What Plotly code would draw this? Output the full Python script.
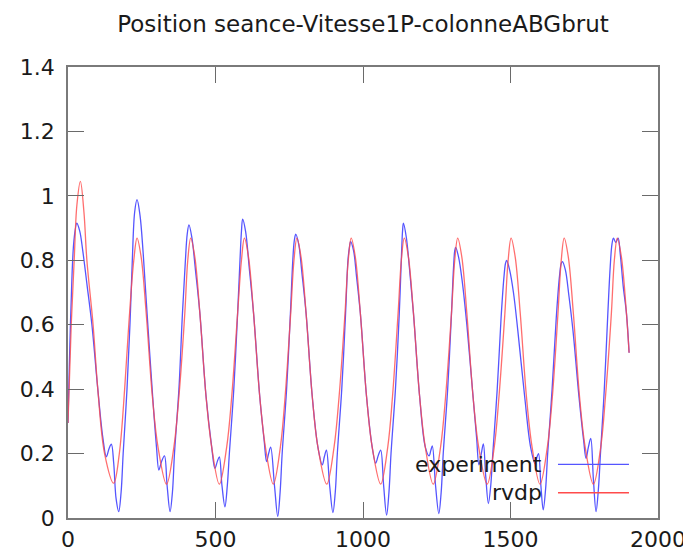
import plotly.graph_objects as go

title_text = "Position seance-Vitesse1P-colonneABGbrut"
x_ticks = [0, 500, 1000, 1500, 2000]
y_ticks = [0, 0.2, 0.4, 0.6, 0.8, 1, 1.2, 1.4]
series_names = ["experiment", "rvdp"]

# experiment (blue) — key points
exp_x = [0, 10, 20, 30, 40, 50, 65, 81, 101, 118, 130, 139, 147, 155, 163, 172, 180, 187, 200, 210, 218, 226, 234,
         244, 255, 268, 287, 300, 308, 317, 327, 336, 346, 354, 361, 376, 388, 398, 404, 410,
         420, 432, 447, 468, 487, 498, 506, 513, 522, 532, 540, 547, 562, 575, 583, 588, 592,
         602, 614, 629, 650, 665, 673, 680, 687, 700, 711, 719, 726, 741, 754, 762, 767, 772,
         782, 793, 807, 828, 847, 862, 869, 876, 887, 898, 906, 913, 928, 941, 949, 954, 958,
         968, 978, 991, 1012, 1031, 1043, 1052, 1060, 1070, 1080, 1088, 1095, 1110, 1123, 1131, 1134, 1137,
         1147, 1158, 1171, 1192, 1211, 1224, 1230, 1235, 1246, 1257, 1265, 1272, 1287, 1300, 1307, 1311, 1314,
         1324, 1337, 1352, 1373, 1385, 1393, 1401, 1408, 1416, 1425, 1433, 1440, 1455, 1468, 1478, 1483, 1487,
         1497, 1510, 1525, 1548, 1568, 1583, 1590, 1595, 1603, 1611, 1619, 1626, 1641, 1655, 1666, 1672, 1676,
         1686, 1698, 1712, 1732, 1748, 1756, 1764, 1772, 1781, 1790, 1798, 1805, 1818, 1830, 1838, 1844, 1849,
         1857, 1865, 1872, 1882, 1893, 1902]
exp_y = [0.295, 0.65, 0.86, 0.915, 0.89, 0.83, 0.72, 0.6, 0.4, 0.25, 0.19, 0.215, 0.229, 0.17, 0.06, 0.02, 0.08, 0.2, 0.4, 0.6, 0.8, 0.95, 0.988,
         0.94, 0.82, 0.636, 0.377, 0.22, 0.149, 0.175, 0.193, 0.1, 0.02, 0.08, 0.2, 0.4, 0.636, 0.8, 0.88, 0.91,
         0.87, 0.77, 0.636, 0.377, 0.221, 0.154, 0.175, 0.19, 0.1, 0.035, 0.1, 0.2, 0.4, 0.636, 0.8, 0.89, 0.928,
         0.89, 0.78, 0.636, 0.377, 0.24, 0.175, 0.2, 0.22, 0.1, 0.005, 0.08, 0.2, 0.4, 0.636, 0.8, 0.86, 0.881,
         0.85, 0.76, 0.636, 0.377, 0.221, 0.165, 0.19, 0.211, 0.1, 0.017, 0.08, 0.2, 0.4, 0.636, 0.8, 0.84, 0.858,
         0.83, 0.75, 0.636, 0.377, 0.221, 0.17, 0.195, 0.211, 0.1, 0.009, 0.08, 0.2, 0.4, 0.636, 0.83, 0.89, 0.915,
         0.87, 0.77, 0.636, 0.377, 0.221, 0.193, 0.21, 0.224, 0.1, 0.014, 0.08, 0.2, 0.4, 0.636, 0.78, 0.83, 0.84,
         0.81, 0.73, 0.6, 0.377, 0.25, 0.165, 0.2, 0.23, 0.13, 0.045, 0.1, 0.2, 0.4, 0.62, 0.75, 0.79, 0.80,
         0.77, 0.70, 0.58, 0.377, 0.221, 0.17, 0.19, 0.2, 0.1, 0.025, 0.09, 0.2, 0.4, 0.62, 0.75, 0.79, 0.796,
         0.77, 0.69, 0.58, 0.377, 0.24, 0.185, 0.22, 0.247, 0.12, 0.02, 0.09, 0.2, 0.4, 0.636, 0.78, 0.85, 0.869,
         0.855, 0.869, 0.82, 0.72, 0.636, 0.513]

# rvdp (red) — key points
rvdp_x = [0, 11, 21, 30, 42, 54, 64, 85, 101, 124, 155, 174, 192, 206, 223, 234,
          248, 265, 286, 305, 334, 359, 376, 396, 406, 416,
          430, 447, 468, 487, 513, 538, 555, 575, 588, 598,
          612, 629, 650, 669, 696, 720, 736, 755, 766, 776,
          790, 807, 828, 847, 877, 902, 919, 939, 950, 960,
          974, 991, 1012, 1031, 1060, 1084, 1100, 1119, 1130, 1140,
          1154, 1171, 1192, 1211, 1238, 1263, 1280, 1300, 1311, 1321,
          1335, 1352, 1373, 1392, 1421, 1445, 1461, 1481, 1492, 1502,
          1516, 1533, 1554, 1573, 1600, 1625, 1642, 1661, 1672, 1682,
          1696, 1713, 1734, 1753, 1781, 1806, 1822, 1842, 1852, 1862,
          1876, 1893, 1902]
rvdp_y = [0.295, 0.6, 0.8, 0.97, 1.045, 0.95, 0.8, 0.6, 0.4, 0.2, 0.108, 0.2, 0.4, 0.6, 0.8, 0.869,
          0.81, 0.636, 0.377, 0.221, 0.105, 0.221, 0.377, 0.636, 0.8, 0.869,
          0.81, 0.636, 0.377, 0.221, 0.105, 0.221, 0.377, 0.636, 0.8, 0.869,
          0.81, 0.636, 0.377, 0.221, 0.105, 0.221, 0.377, 0.636, 0.8, 0.869,
          0.81, 0.636, 0.377, 0.221, 0.105, 0.221, 0.377, 0.636, 0.8, 0.869,
          0.81, 0.636, 0.377, 0.221, 0.105, 0.221, 0.377, 0.636, 0.8, 0.869,
          0.81, 0.636, 0.377, 0.221, 0.105, 0.221, 0.377, 0.636, 0.8, 0.869,
          0.81, 0.636, 0.377, 0.221, 0.105, 0.221, 0.377, 0.636, 0.8, 0.869,
          0.81, 0.636, 0.377, 0.221, 0.105, 0.221, 0.377, 0.636, 0.8, 0.869,
          0.81, 0.636, 0.377, 0.221, 0.105, 0.221, 0.377, 0.636, 0.8, 0.869,
          0.81, 0.636, 0.513]

BLUE = "rgb(85,85,255)"
RED = "rgb(255,75,75)"
FONT = "DejaVu Sans"

fig = go.Figure()
fig.add_trace(go.Scatter(x=exp_x, y=exp_y, mode="lines", name=series_names[0],
                         line=dict(color=BLUE, width=1.3, shape="spline", smoothing=1.0)))
fig.add_trace(go.Scatter(x=rvdp_x, y=rvdp_y, mode="lines", name=series_names[1], opacity=0.8,
                         line=dict(color=RED, width=1.3, shape="spline", smoothing=1.0)))

axis_common = dict(showgrid=False, zeroline=False, showline=True, linecolor="#7a7a7a", linewidth=1.5,
                   mirror="allticks", ticks="inside", ticklen=16, tickwidth=1.3, tickcolor="#6a6a6a",
                   automargin=False,
                   tickfont=dict(family=FONT, size=22, color="#1a1a1a"))
fig.update_xaxes(range=[0, 2000], tickvals=x_ticks, ticktext=[str(v) for v in x_ticks],
                 ticklabelstandoff=1, **axis_common)
fig.update_yaxes(range=[0, 1.4], tickvals=y_ticks, ticktext=["0", "0.2", "0.4", "0.6", "0.8", "1", "1.2", "1.4"],
                 ticklabelstandoff=7, **axis_common)

# gnuplot-style key: text on the left, line sample on the right
key_rows = [(series_names[0], BLUE, 0.119), (series_names[1], RED, 0.056)]
for name, col, yp in key_rows:
    fig.add_annotation(x=0.8068, y=yp, xref="paper", yref="paper", text=name, showarrow=False,
                       xanchor="right", yanchor="middle", font=dict(family=FONT, size=22, color="#1a1a1a"))
    fig.add_shape(type="line", xref="paper", yref="paper", x0=0.8305, x1=0.9508, y0=yp, y1=yp,
                  line=dict(color=col, width=1.3))

fig.update_layout(
    width=691, height=559,
    margin=dict(l=60, r=41, t=59, b=49),
    paper_bgcolor="white", plot_bgcolor="white",
    showlegend=False,
    title=dict(text=title_text, x=0.5, xref="paper", xanchor="center",
               y=1 - 16 / 559, yref="container", yanchor="middle", automargin=False,
               font=dict(family=FONT, size=23, color="#1a1a1a")),
)

fig.write_html("out.html")
